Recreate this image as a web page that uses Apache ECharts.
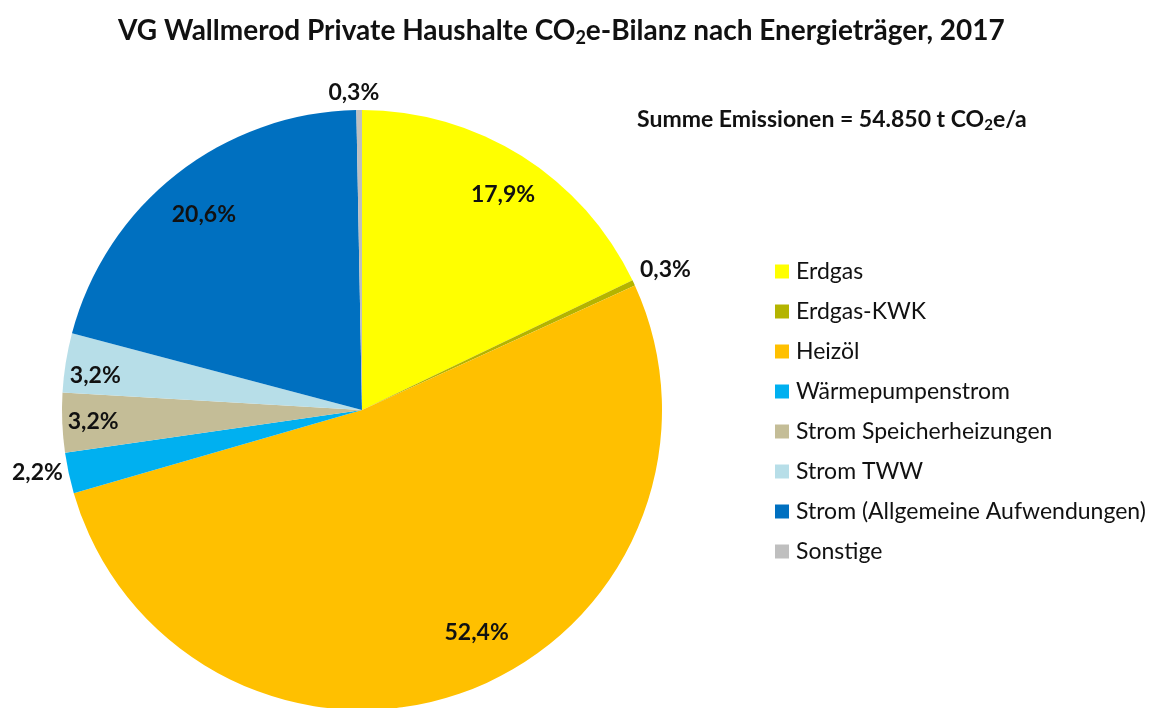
<!DOCTYPE html>
<html>
<head>
<meta charset="utf-8">
<script src="https://cdn.jsdelivr.net/npm/echarts@6/dist/echarts.min.js"></script>
<style>
  html, body { margin: 0; padding: 0; background: #fff; }
  #chart { width: 1153px; height: 708px; }
</style>
</head>
<body>
<div id="chart"></div>
<script>
// Anteile je Energieträger (Prozent)
const categories = ['Erdgas', 'Erdgas-KWK', 'Heizöl', 'Wärmepumpenstrom',
  'Strom Speicherheizungen', 'Strom TWW', 'Strom (Allgemeine Aufwendungen)', 'Sonstige'];
const shares = [17.9, 0.3, 52.4, 2.2, 3.2, 3.2, 20.6, 0.3];
const colors = ['#FFFF00', '#B4B400', '#FFC000', '#00B0F0', '#C4BD97', '#B7DEE8', '#0070C0', '#BFBFBF'];
// welche Beschriftung innen bzw. außen steht
const labelInside = [true, false, true, false, true, true, true, false];

const font = 'Lato, "Open Sans", sans-serif';
const fmt = p => p.value.toFixed(1).replace('.', ',') + '%';

// kleine Korrekturen der Beschriftungslage (px)
const nudge = [[2, 5], [0, 2], [24, -22], [3, -8], [-8, 1], [-9, 7], [3, 10], [-5, 18]];

const pieData = categories.map((name, i) => ({ name, value: shares[i], itemStyle: { color: colors[i] } }));

function labelRing(radius, showIdx) {
  return {
    type: 'pie',
    center: [362, 410],
    radius: radius,
    startAngle: 90,
    clockwise: true,
    silent: true,
    animation: false,
    itemStyle: { color: 'rgba(0,0,0,0)', borderWidth: 0 },
    label: {
      position: 'inside',
      formatter: fmt,
      fontFamily: font,
      fontWeight: 'bold',
      fontSize: 23,
      color: '#111'
    },
    labelLine: { show: false },
    labelLayout: p => ({ dx: nudge[p.dataIndex][0], dy: nudge[p.dataIndex][1] }),
    emphasis: { disabled: true },
    data: categories.map((name, i) => ({
      name, value: shares[i],
      label: { show: showIdx(i) }
    }))
  };
}

const myChart = echarts.init(document.getElementById('chart'));
myChart.setOption({
  animation: false,
  title: [{
    text: '{a|VG Wallmerod Private Haushalte CO}{s|2}{a|e-Bilanz nach Energieträger, 2017}',
    left: 113,
    top: 8,
    textStyle: {
      rich: {
        a: { fontFamily: font, fontWeight: 'bold', fontSize: 28, color: '#111', lineHeight: 36, verticalAlign: 'middle' },
        s: { fontFamily: font, fontWeight: 'bold', fontSize: 18, color: '#111', lineHeight: 36, verticalAlign: 'bottom', padding: [0, 0, 2, 0] }
      }
    }
  }, {
    text: '{a|Summe Emissionen = 54.850 t CO}{s|2}{a|e/a}',
    left: 632,
    top: 100,
    textStyle: {
      rich: {
        a: { fontFamily: font, fontWeight: 'bold', fontSize: 23, color: '#111', lineHeight: 30, verticalAlign: 'middle' },
        s: { fontFamily: font, fontWeight: 'bold', fontSize: 15, color: '#111', lineHeight: 30, verticalAlign: 'bottom', padding: [0, 0, 2, 0] }
      }
    }
  }],
  legend: {
    orient: 'vertical',
    left: 770,
    top: 255,
    itemWidth: 14,
    itemHeight: 14,
    itemGap: 17,
    icon: 'rect',
    textStyle: { fontFamily: font, fontSize: 23, color: '#111', padding: [0, 0, 0, 2] },
    data: categories
  },
  series: [
    {
      type: 'pie',
      center: [362, 410],
      radius: [0, 300],
      startAngle: 90,
      clockwise: true,
      animation: false,
      label: { show: false },
      labelLine: { show: false },
      itemStyle: { borderColor: '#fff', borderWidth: 0 },
      data: pieData
    },
    labelRing([216, 300], i => labelInside[i]),
    labelRing([300, 364], i => !labelInside[i])
  ]
});
</script>
</body>
</html>
